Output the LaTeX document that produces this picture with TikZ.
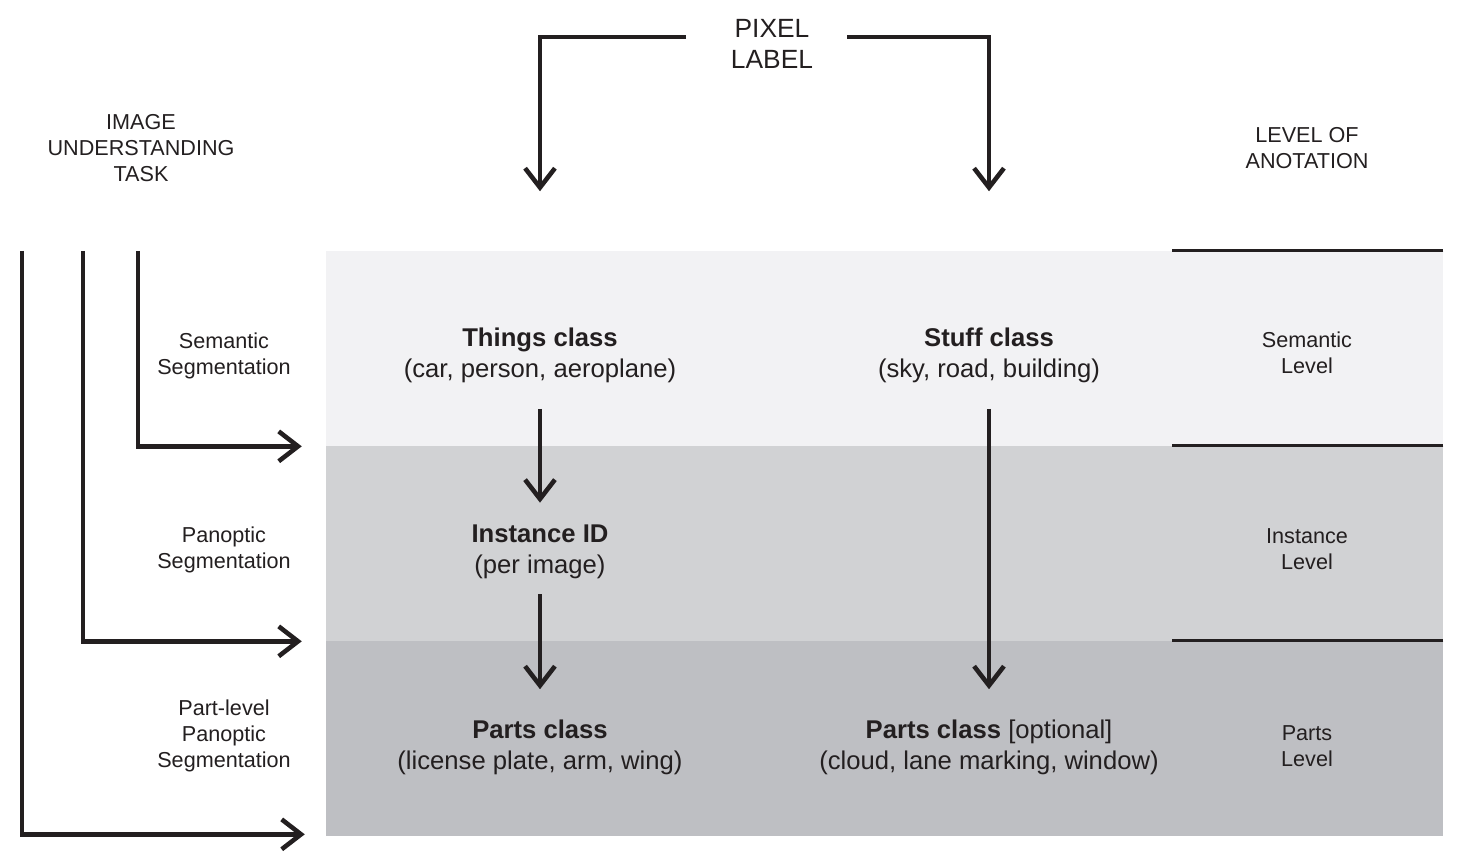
\documentclass[tikz,border=0pt]{standalone}
\usepackage{fontspec}
\setmainfont{Liberation Sans}
\usetikzlibrary{arrows.meta}
\definecolor{ink}{HTML}{231F20}
\definecolor{bandA}{HTML}{F2F2F4}
\definecolor{bandB}{HTML}{D1D2D4}
\definecolor{bandC}{HTML}{BEBFC3}
\tikzset{
  arr/.style={draw=ink, line width=2.6pt, -{Straight Barb[length=11pt,width=17pt]}},
  rule/.style={draw=ink, line width=2pt},
  band/.style={rectangle, inner sep=0, minimum width=22.34cm, minimum height=3.9cm},
  big/.style={align=center, inner sep=0, text=ink, font=\fontsize{14.6}{17.6}\selectfont},
  small/.style={align=center, inner sep=0, text=ink, font=\fontsize{12.3}{14.8}\selectfont},
}
\begin{document}
\begin{tikzpicture}[x=0.02cm, y=-0.02cm]
    \useasboundingbox (0,0) rectangle (1463,857);
    % level bands
    \node [band, fill=bandA] (semband) at (884.5,348.5) {};
    \node [band, fill=bandB] (instband) at (884.5,543.5) {};
    \node [band, fill=bandC] (partband) at (884.5,738.5) {};
    \foreach \b in {semband,instband,partband}
        \draw [rule] (\b.north east) -- ++(-271,0);
    % headings
    \node [big, font=\fontsize{15}{17.6}\selectfont] (pixel) at (772,44) {PIXEL\\LABEL};
    \node [small] (task) at (141,148) {IMAGE\\UNDERSTANDING\\TASK};
    \node [small] (level) at (1307,148) {LEVEL OF\\ANOTATION};
    % classes
    \node [big] (things) at (540,355) {\textbf{Things class}\\(car, person, aeroplane)};
    \node [big] (stuff) at (989,355) {\textbf{Stuff class}\\(sky, road, building)};
    \node [big] (instance) at (540,552) {\textbf{Instance ID}\\(per image)};
    \node [big] (parts) at (540,747) {\textbf{Parts class}\\(license plate, arm, wing)};
    \node [big] (partsopt) at (989,747) {\textbf{Parts class} [optional]\\(cloud, lane marking, window)};
    % tasks and levels
    \node [small] (semseg) at (224,356) {Semantic\\Segmentation};
    \node [small] (panseg) at (224,550) {Panoptic\\Segmentation};
    \node [small] (partseg) at (224,736) {Part-level\\Panoptic\\Segmentation};
    \node [small] (semlev) at (1307,353) {Semantic\\Level};
    \node [small] (instlev) at (1307,549) {Instance\\Level};
    \node [small] (partlev) at (1307,746) {Parts\\Level};
    % arrows
    \coordinate (pixL) at (686,37);
    \coordinate (pixR) at (847,37);
    \draw [arr, shorten >=2.72cm] (pixL) -| (things.north);
    \draw [arr, shorten >=2.72cm] (pixR) -| (stuff.north);
    \draw [arr, shorten <=0.52cm, shorten >=0.44cm] (things) -- (instance);
    \draw [arr, shorten <=0.3cm, shorten >=0.6cm] (instance) -- (parts);
    \draw [arr, shorten <=0.52cm, shorten >=0.6cm] (stuff) -- (partsopt);
    \coordinate (semtop) at (138,251);
    \coordinate (pantop) at (83,251);
    \coordinate (parttop) at (22,251);
    \draw [arr, shorten >=0.48cm] (semtop) |- (semband.south west);
    \draw [arr, shorten >=0.48cm] (pantop) |- (instband.south west);
    \draw [arr, shorten >=0.42cm] (parttop) |- ([yshift=0.04cm]partband.south west);
\end{tikzpicture}
\end{document}
